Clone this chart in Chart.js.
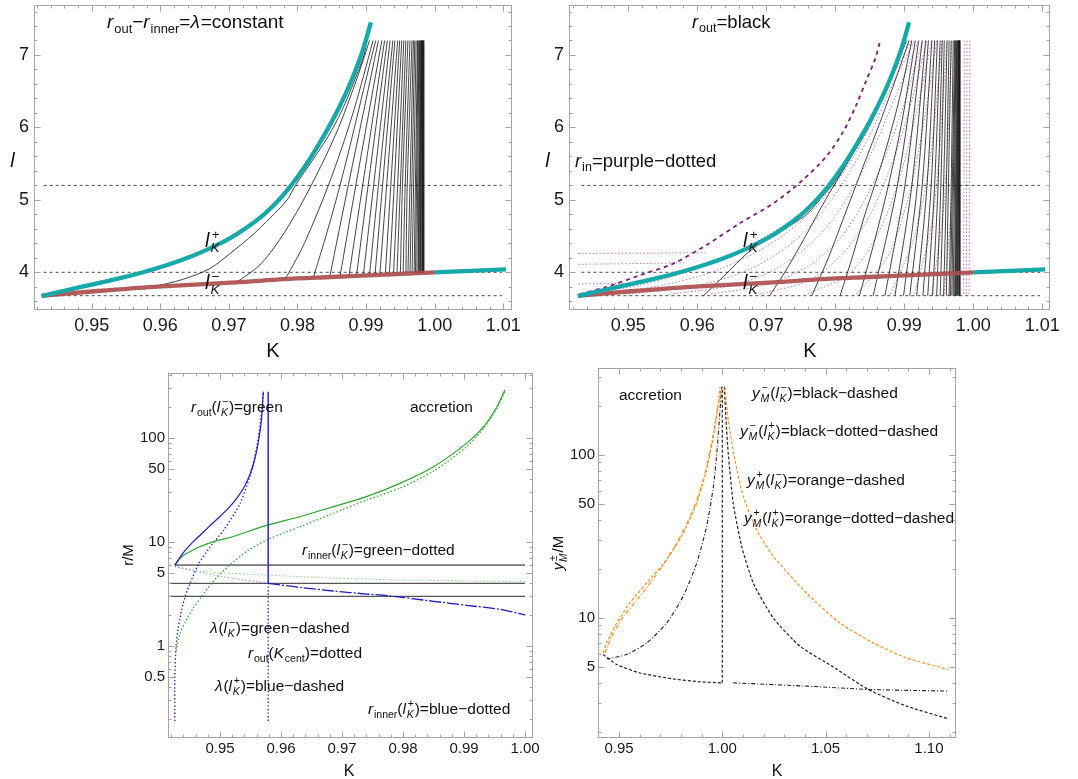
<!DOCTYPE html>
<html>
<head>
<meta charset="utf-8">
<script src="https://cdn.jsdelivr.net/npm/chart.js@4.4.1/dist/chart.umd.min.js"></script>
<style>
  body { margin: 0; background: #fff; width: 1078px; height: 779px; position: relative; overflow: hidden; }
  canvas { position: absolute; }
</style>
</head>
<body>
<canvas id="tl"></canvas>
<canvas id="tr"></canvas>
<canvas id="bl"></canvas>
<canvas id="br"></canvas>
<script>
'use strict';

// ---- top panels: l against K ----
const lKplus = [[0.9427, 3.67], [0.946, 3.745], [0.950, 3.83], [0.954, 3.915], [0.9575, 4.0], [0.961, 4.10],
  [0.964, 4.20], [0.967, 4.32], [0.970, 4.46], [0.9725, 4.61], [0.975, 4.79], [0.977, 4.97], [0.979, 5.19],
  [0.981, 5.45], [0.983, 5.75], [0.985, 6.08], [0.987, 6.46], [0.9885, 6.80], [0.9897, 7.12], [0.9907, 7.45]];
const lKplusTail = [[1.0, 4.0], [1.0104, 4.04]];
const lKminus = [[0.9427, 3.675], [0.950, 3.735], [0.959, 3.80], [0.971, 3.86], [0.978, 3.905], [0.985, 3.935],
  [0.992, 3.965], [1.0, 4.0]];
const dashLevels = [5.2, 4.0, 3.677];
const topLevel = 7.2;

// r_out contours, left panel (start on l_K^-)
const tlRout = [
  [[0.9590, 3.80], [0.9632, 3.90], [0.9672, 4.05], [0.9707, 4.30], [0.9735, 4.52], [0.9759, 4.74], [0.9785, 5.00],
    [0.9797, 5.20], [0.9822, 5.55], [0.9845, 5.88], [0.9864, 6.22], [0.9879, 6.55], [0.9897, 7.00], [0.9901, 7.20]],
  [[0.9711, 3.86], [0.9745, 4.10], [0.9774, 4.45], [0.9800, 4.85], [0.9820, 5.20], [0.9841, 5.60], [0.9860, 6.00],
    [0.9877, 6.42], [0.9893, 6.85], [0.9905, 7.20]],
  [[0.9782, 3.905], [0.9805, 4.30], [0.9826, 4.75], [0.9845, 5.20], [0.9864, 5.70], [0.9881, 6.20], [0.9896, 6.70], [0.9910, 7.20]],
  [[0.9823, 3.925], [0.9843, 4.55], [0.9862, 5.20], [0.9880, 5.88], [0.9897, 6.55], [0.9914, 7.20]],
  [[0.9847, 3.937], [0.9874, 5.20], [0.9918, 7.20]],
  [[0.9862, 3.944], [0.9885, 5.20], [0.9923, 7.20]],
  [[0.9875, 3.95], [0.9895, 5.20], [0.9927, 7.20]],
  [[0.9886, 3.953], [0.9903, 5.20], [0.9931, 7.20]],
  [[0.9896, 3.957], [0.9911, 5.20], [0.9935, 7.20]],
  [[0.9905, 3.96], [0.9918, 5.20], [0.9939, 7.20]],
  [[0.9913, 3.963], [0.9924, 5.20], [0.9942, 7.20]],
  [[0.9920, 3.966], [0.9930, 5.20], [0.9946, 7.20]],
  [[0.9928, 3.969], [0.9936, 5.20], [0.9949, 7.20]],
  [[0.9934, 3.972], [0.9941, 5.20], [0.9952, 7.20]],
  [[0.9940, 3.974], [0.9946, 5.20], [0.9955, 7.20]],
  [[0.9945, 3.976], [0.9950, 5.20], [0.9958, 7.20]],
  [[0.9950, 3.978], [0.9953, 5.20], [0.9961, 7.20]],
  [[0.9954, 3.98], [0.9957, 5.20], [0.9964, 7.20]],
  [[0.9958, 3.982], [0.9960, 5.20], [0.9967, 7.20]],
];
const tlDenseLow = 3.985;
const tlDenseBottomK = [0.9961, 0.9964, 0.9967, 0.9970, 0.9972, 0.9974, 0.9976, 0.9977, 0.9978, 0.9979, 0.9980,
  0.9981, 0.9982, 0.99825, 0.9983, 0.99835, 0.9984];
const tlDenseTopK = [0.9969, 0.9971, 0.9973, 0.9975, 0.9976, 0.9977, 0.9978, 0.9979, 0.9980, 0.99805, 0.9981,
  0.99815, 0.9982, 0.99825, 0.9983, 0.99838, 0.99844];

// r_out contours, right panel (start on the lowest dashed level)
const trRout = [
  [[0.9609, 3.677], [0.9642, 3.98], [0.9672, 4.26], [0.9700, 4.45], [0.9756, 4.78], [0.9780, 5.03], [0.9797, 5.22],
    [0.9820, 5.55], [0.9845, 5.95], [0.9868, 6.40], [0.9887, 6.80], [0.9901, 7.2]],
  [[0.9705, 3.677], [0.9730, 4.05], [0.9754, 4.45], [0.9777, 4.85], [0.9795, 5.15], [0.9822, 5.58], [0.9848, 6.03],
    [0.9872, 6.50], [0.9890, 6.88], [0.9903, 7.2]],
  [[0.9766, 3.677], [0.9790, 4.20], [0.9812, 4.75], [0.9830, 5.20], [0.9850, 5.70], [0.9868, 6.15], [0.9888, 6.68], [0.9907, 7.2]],
  [[0.9807, 3.677], [0.9826, 4.25], [0.9843, 4.80], [0.9857, 5.20], [0.9875, 5.75], [0.9893, 6.40], [0.9911, 7.2]],
  [[0.9835, 3.677], [0.9856, 4.40], [0.9877, 5.20], [0.9897, 6.10], [0.9916, 7.2]],
  [[0.9855, 3.677], [0.9890, 5.20], [0.9921, 7.2]],
  [[0.9872, 3.677], [0.9901, 5.20], [0.9926, 7.2]],
  [[0.98865, 3.677], [0.9911, 5.20], [0.9931, 7.2]],
  [[0.9899, 3.677], [0.9919, 5.20], [0.9935, 7.2]],
  [[0.9908, 3.677], [0.9926, 5.20], [0.9940, 7.2]],
  [[0.9918, 3.677], [0.9933, 5.20], [0.9944, 7.2]],
  [[0.9927, 3.677], [0.9939, 5.20], [0.9948, 7.2]],
  [[0.9934, 3.677], [0.9944, 5.20], [0.9952, 7.2]],
  [[0.9941, 3.677], [0.9949, 5.20], [0.9955, 7.2]],
  [[0.9947, 3.677], [0.9953, 5.20], [0.9958, 7.2]],
  [[0.9952, 3.677], [0.9957, 5.20], [0.9962, 7.2]],
  [[0.9957, 3.677], [0.9961, 5.20], [0.9965, 7.2]],
  [[0.9961, 3.677], [0.9964, 5.20], [0.9968, 7.2]],
  [[0.9965, 3.677], [0.9968, 5.20], [0.9971, 7.2]],
];
const trDenseLow = 3.677;
const trDenseBottomK = [0.9967, 0.9969, 0.9971, 0.9973, 0.9974, 0.9975, 0.9976, 0.9977, 0.9978, 0.9979, 0.99795, 0.9980, 0.99805];
const trDenseTopK = [0.9973, 0.9974, 0.9975, 0.9976, 0.9977, 0.9978, 0.99785, 0.9979, 0.99795, 0.9980, 0.99803, 0.99805, 0.99807];

// r_in contours (purple dotted) and the purple dashed curve
const trRin = [
  [[0.9428, 4.26], [0.9612, 4.27]],
  [[0.9428, 4.11], [0.9585, 4.13]],
  [[0.9428, 3.84], [0.9520, 3.85]],
  [[0.9440, 3.70], [0.9520, 3.83], [0.9590, 4.02], [0.9650, 4.25], [0.9700, 4.50], [0.9750, 4.82], [0.9790, 5.20],
    [0.9820, 5.60], [0.9845, 6.00], [0.9870, 6.50], [0.9893, 7.0], [0.9905, 7.2]],
  [[0.9460, 3.70], [0.9550, 3.82], [0.9620, 4.00], [0.9680, 4.25], [0.9730, 4.55], [0.9772, 4.90], [0.9806, 5.30],
    [0.9833, 5.70], [0.9857, 6.15], [0.9880, 6.65], [0.9910, 7.2]],
  [[0.9500, 3.70], [0.9590, 3.80], [0.9660, 3.98], [0.9715, 4.25], [0.9760, 4.60], [0.9798, 5.05], [0.9828, 5.50],
    [0.9853, 5.95], [0.9876, 6.45], [0.9915, 7.2]],
  [[0.9560, 3.70], [0.9640, 3.80], [0.9700, 3.98], [0.9750, 4.28], [0.9790, 4.65], [0.9822, 5.10], [0.9850, 5.60],
    [0.9873, 6.10], [0.9921, 7.2]],
  [[0.9620, 3.70], [0.9700, 3.83], [0.9760, 4.08], [0.9805, 4.45], [0.9840, 4.95], [0.9868, 5.50], [0.9892, 6.10], [0.9927, 7.2]],
  [[0.9690, 3.70], [0.9760, 3.88], [0.9810, 4.25], [0.9848, 4.75], [0.9878, 5.40], [0.9903, 6.10], [0.9933, 7.2]],
  [[0.9760, 3.70], [0.9820, 3.98], [0.9860, 4.50], [0.9890, 5.20], [0.9915, 6.10], [0.9940, 7.2]],
  [[0.9830, 3.70], [0.9875, 4.20], [0.9905, 5.00], [0.9927, 6.00], [0.9947, 7.2]],
  [[0.9880, 3.70], [0.9915, 4.50], [0.9938, 5.60], [0.9955, 7.2]],
  [[0.9915, 3.70], [0.9942, 4.80], [0.9962, 7.2]],
  [[0.9940, 3.70], [0.9958, 5.00], [0.9969, 7.2]],
  [[0.9958, 3.70], [0.9970, 5.20], [0.9976, 7.2]],
  [[0.9986, 3.70], [0.9987, 7.2]],
  [[0.9990, 3.70], [0.9991, 7.2]],
  [[0.9994, 3.70], [0.9995, 7.2]],
];
const trRinOuter = [[0.9430, 3.70], [0.9469, 3.80], [0.9517, 3.96], [0.9565, 4.12], [0.9614, 4.38], [0.9662, 4.68],
  [0.9710, 4.95], [0.9750, 5.25], [0.9787, 5.60], [0.9812, 5.95], [0.9830, 6.30], [0.9845, 6.65], [0.9858, 6.95], [0.9865, 7.19]];

// ---- bottom left: r/M against K ----
const blBlueSolid = [[0.9426, 6.0], [0.9440, 7.9], [0.9455, 9.9], [0.9470, 12.0], [0.9485, 14.6], [0.9500, 17.6],
  [0.9515, 21.5], [0.9528, 26.5], [0.9540, 34], [0.9550, 46], [0.9558, 66], [0.9564, 100], [0.9568, 150], [0.9571, 279]];
const blBlueVert = [[0.9579, 4.0], [0.9579, 279]];
const blBlueVertDot = [[0.9579, 0.19], [0.9579, 4.0]];
const blBlueDotted = [[0.9426, 0.19], [0.9426, 0.5], [0.9428, 1.0], [0.9431, 1.43], [0.9437, 2.2], [0.9443, 3.0],
  [0.9451, 4.0], [0.9464, 6.0], [0.9484, 9.0], [0.9506, 13.0], [0.9533, 23.5], [0.9552, 49], [0.9563, 103],
  [0.9569, 200], [0.9571, 279]];
const blBlueFaint = [[0.9426, 5.8], [0.9473, 5.0], [0.9525, 4.45], [0.9579, 4.0]];
const blBlueDash = [[0.9579, 4.0], [0.9631, 3.66], [0.9686, 3.38], [0.9740, 3.16], [0.9779, 3.03], [0.9850, 2.69],
  [0.9904, 2.46], [0.9959, 2.25], [1.0, 1.99]];
const blGreenSolid = [[0.9426, 6.01], [0.9435, 7.0], [0.9445, 7.75], [0.9467, 9.0], [0.9495, 10.3], [0.9522, 11.3],
  [0.9579, 14.6], [0.9631, 17.5], [0.9686, 21.9], [0.9740, 27.3], [0.9795, 36.6], [0.9850, 52.9], [0.9904, 88.8],
  [0.9932, 128], [0.9954, 200], [0.9967, 289]];
const blGreenDotted = [[0.9428, 0.9], [0.9434, 1.3], [0.9443, 1.7], [0.9456, 2.3], [0.9470, 3.0], [0.9486, 4.0],
  [0.9516, 6.0], [0.9545, 8.2], [0.9579, 10.6], [0.9631, 14.0], [0.9686, 18.9], [0.9740, 25.3], [0.9795, 33],
  [0.9850, 48], [0.9904, 82], [0.9932, 124], [0.9954, 193], [0.9967, 279]];
const blGreenFaint = [[0.9426, 5.8], [0.9480, 5.15], [0.9579, 4.8], [0.9686, 4.5], [0.9795, 4.33], [0.9904, 4.22], [1.0, 4.15]];
const blLevels = [[0.9426, 6.0], [0.9415, 4.0], [0.9415, 3.0]];
const blLevelEnd = 1.0;

// ---- bottom right: y_M/M against K ----
const brOrangeDash = [[0.9424, 6.11], [0.9440, 7.03], [0.9489, 9.32], [0.9553, 12.4], [0.9634, 16.4], [0.9731, 22.8],
  [0.9811, 33.1], [0.9876, 50.6], [0.9924, 80.9], [0.9957, 130], [0.9981, 207], [0.9989, 262]];
const brOrangeDotDash = [[0.9432, 6.11], [0.9465, 7.73], [0.9521, 10.2], [0.9602, 13.6], [0.9698, 19.8], [0.9779, 28.8],
  [0.9852, 44.0], [0.9908, 70.3], [0.9948, 118], [0.9976, 189], [0.9997, 262]];
const brOrangeRight = [[1.0013, 262], [1.0029, 164], [1.0061, 93], [1.0102, 55.6], [1.0166, 34.8], [1.0247, 23.9],
  [1.0408, 14.2], [1.0569, 9.32], [1.0731, 7.03], [1.0892, 5.69], [1.1094, 4.83]];
const brBlackDashRight = [[1.0010, 262], [1.0018, 164], [1.0029, 102], [1.0053, 50.6], [1.0094, 27.5], [1.0150, 16.4],
  [1.0247, 10], [1.0376, 6.71], [1.0537, 5.01], [1.0707, 3.64], [1.0892, 2.88], [1.1094, 2.41]];
const brBlackDashLow = [[0.9424, 5.97], [0.9489, 5.18], [0.9602, 4.60], [0.9763, 4.23], [0.9892, 4.06], [1.0, 4.0]];
const brBlackVert = [[1.0, 4.0], [1.0, 262]];
const brBlackDotDashLeft = [[0.9440, 5.6], [0.9537, 5.97], [0.9634, 7.03], [0.9731, 9.32], [0.9811, 13.6], [0.9876, 21.7],
  [0.9924, 36.4], [0.9957, 64], [0.9976, 112], [0.9989, 189], [0.9997, 262]];
const brBlackDotDashRight = [[1.0053, 4.0], [1.0408, 3.82], [1.0707, 3.64], [1.1094, 3.56]];

// tick labels
const topXTicks = [0.95, 0.96, 0.97, 0.98, 0.99, 1.00, 1.01];
const topYTicks = [4, 5, 6, 7];
const blXTicks = [0.95, 0.96, 0.97, 0.98, 0.99, 1.00];
const blYTicks = [0.5, 1, 5, 10, 50, 100];
const brXTicks = [0.95, 1.00, 1.05, 1.10];
const brYTicks = [5, 10, 50, 100];

const FONT = '"Liberation Sans", Arial, sans-serif';
Chart.defaults.font.family = FONT;
const CYAN = '#17a9a9';
const RED = 'rgba(172,78,78,0.92)';
const BLUE = '#1c1cc8';
const GREEN = '#2aa82a';
const ORANGE = '#ff8d1e';
const DOT = [1.4, 2.2];

function series(a, color, width, dash, order, tension) {
  return {
    data: a.map(p => ({ x: p[0], y: p[1] })),
    showLine: true, fill: false, borderColor: color, borderWidth: width, borderDash: dash || [],
    pointRadius: 0, pointHoverRadius: 0, tension: tension || 0, order: order || 0,
  };
}

function steps(a, b, d) {
  const out = [];
  for (let v = a; v <= b + d / 2; v += d) out.push(+v.toFixed(6));
  return out;
}
function logMinors(lo, hi) {
  const out = [];
  for (let e = lo; e <= hi; e++) for (let m = 1; m < 10; m++) out.push(+(m * Math.pow(10, e)).toPrecision(3));
  return out;
}

function fontOf(size, italic) {
  return (italic ? 'italic ' : '') + size + 'px ' + FONT;
}

// text with italics, subscripts and stacked sub/superscripts
function drawRich(ctx, parts, x, y, size, align) {
  const sm = size * 0.68;
  const segs = parts.map(p => {
    const [t, s, t2] = p;
    if (s === 'ss') {
      ctx.font = fontOf(sm, false);
      const w1 = ctx.measureText(t).width;
      ctx.font = fontOf(sm, true);
      const w2 = ctx.measureText(t2).width;
      return { p, w: Math.max(w1, w2) + size * 0.06 };
    }
    ctx.font = fontOf(s === 'sub' ? sm : size, s === 'i');
    return { p, w: ctx.measureText(t).width + (s === 'i' ? size * 0.05 : 0) };
  });
  const total = segs.reduce((acc, s) => acc + s.w, 0);
  let cx = align === 'center' ? x - total / 2 : x;
  ctx.fillStyle = '#111';
  ctx.textAlign = 'left';
  ctx.textBaseline = 'alphabetic';
  for (const sg of segs) {
    const [t, s, t2] = sg.p;
    if (s === 'ss') {
      ctx.font = fontOf(sm, false);
      ctx.fillText(t, cx + size * 0.06, y - size * 0.42);
      ctx.font = fontOf(sm, true);
      ctx.fillText(t2, cx, y + size * 0.26);
    } else if (s === 'sub') {
      ctx.font = fontOf(sm, false);
      ctx.fillText(t, cx, y + size * 0.24);
    } else {
      ctx.font = fontOf(size, s === 'i');
      ctx.fillText(t, cx, y);
    }
    cx += sg.w;
  }
}

function decoPlugin(p) {
  return {
    id: 'deco_' + p.id,
    afterDatasetsDraw(chart) {
      const { ctx, chartArea: a, scales: { x, y } } = chart;
      ctx.save();
      ctx.strokeStyle = '#a4a4a4';
      ctx.lineWidth = 1;
      ctx.strokeRect(a.left + 0.5, a.top + 0.5, a.right - a.left - 1, a.bottom - a.top - 1);
      const mark = (scale, vals, len, horiz) => {
        ctx.beginPath();
        for (const v of vals) {
          if (v < scale.min || v > scale.max) continue;
          const q = Math.round(scale.getPixelForValue(v)) + 0.5;
          if (horiz) {
            ctx.moveTo(q, a.bottom); ctx.lineTo(q, a.bottom - len);
            ctx.moveTo(q, a.top); ctx.lineTo(q, a.top + len);
          } else {
            ctx.moveTo(a.left, q); ctx.lineTo(a.left + len, q);
            ctx.moveTo(a.right, q); ctx.lineTo(a.right - len, q);
          }
        }
        ctx.stroke();
      };
      mark(x, p.xMinor, 3.5, true);
      mark(x, p.xTicks, 6.5, true);
      mark(y, p.yMinor, 3.5, false);
      mark(y, p.yTicks, 6.5, false);
      ctx.restore();
    },
    afterDraw(chart) {
      const ctx = chart.ctx;
      ctx.save();
      ctx.translate(-p.x, -p.y);
      for (const n of p.notes) {
        if (n.rot) {
          ctx.save();
          ctx.translate(n.x, n.y);
          ctx.rotate(-Math.PI / 2);
          drawRich(ctx, n.parts, 0, n.size * 0.36, n.size, 'center');
          ctx.restore();
        } else {
          drawRich(ctx, n.parts, n.x, n.y, n.size, n.align);
        }
      }
      ctx.restore();
    },
  };
}

function noPad(s) {
  s.paddingTop = 0; s.paddingBottom = 0; s.paddingLeft = 0; s.paddingRight = 0;
}

function makeChart(p) {
  const cv = document.getElementById(p.id);
  cv.width = p.w; cv.height = p.h;
  cv.style.left = p.x + 'px'; cv.style.top = p.y + 'px';
  cv.style.width = p.w + 'px'; cv.style.height = p.h + 'px';
  const tickFont = { size: p.tickSize, family: FONT };
  return new Chart(cv, {
    type: 'scatter',
    data: { datasets: p.datasets },
    options: {
      responsive: false, animation: false, devicePixelRatio: 1,
      layout: { padding: { left: 0, top: p.area.t - p.y, right: p.x + p.w - p.area.r, bottom: 0 } },
      plugins: { legend: { display: false }, tooltip: { enabled: false } },
      events: [],
      scales: {
        x: {
          type: 'linear', min: p.xMin, max: p.xMax,
          afterFit: s => { s.height = p.y + p.h - p.area.b; noPad(s); },
          afterBuildTicks: s => { s.ticks = p.xTicks.map(v => ({ value: v })); },
          ticks: { autoSkip: false, maxRotation: 0, padding: p.xPad, color: '#1a1a1a', font: tickFont,
            callback: v => v.toFixed(2) },
          grid: { display: false, drawTicks: false }, border: { display: false },
        },
        y: {
          type: p.logY ? 'logarithmic' : 'linear', min: p.yMin, max: p.yMax,
          afterFit: s => { s.width = p.area.l - p.x; noPad(s); },
          afterBuildTicks: s => { s.ticks = p.yTicks.map(v => ({ value: v })); },
          ticks: { autoSkip: false, padding: p.yPad, color: '#1a1a1a', font: tickFont, callback: v => String(v) },
          grid: { display: false, drawTicks: false }, border: { display: false },
        },
      },
    },
    plugins: [decoPlugin(p)],
  });
}

function topCommon(rout, denseLow, denseBottom, denseTop, dashFrom, dashTo) {
  return [
    series(lKplus, CYAN, 4.3, [], 0, 0.3),
    series(lKplusTail, CYAN, 4.3, [], 0),
    series(lKminus, RED, 4.3, [], 1, 0.3),
    ...dashLevels.map(l => series([[dashFrom, l], [dashTo, l]], '#4a4a4a', 1, [3, 3], 3)),
    ...rout.map(c => series(c, '#151515', 0.8, [], 2, 0.3)),
    ...denseBottom.map((k, i) => series([[k, denseLow], [denseTop[i], topLevel]], '#151515', 0.8, [], 2)),
  ];
}

const lPlus = [['l', 'i'], ['+', 'ss', 'K']];
const lMinus = [['l', 'i'], ['−', 'ss', 'K']];

makeChart({
  id: 'tl', x: 0, y: 0, w: 540, h: 360, area: { l: 34, t: 5, r: 512, b: 310 },
  xMin: 0.94159, xMax: 1.01127, yMin: 3.4795, yMax: 7.69,
  xTicks: topXTicks, yTicks: topYTicks, xMinor: steps(0.942, 1.012, 0.002), yMinor: steps(3.6, 7.6, 0.2),
  tickSize: 18, xPad: 5, yPad: 5,
  datasets: topCommon(tlRout, tlDenseLow, tlDenseBottomK, tlDenseTopK, 0.9430, 1.0098),
  notes: [
    { x: 107, y: 28, size: 19, parts: [['r', 'i'], ['out', 'sub'], ['−'], ['r', 'i'], ['inner', 'sub'], ['='], ['λ', 'i'], ['=constant']] },
    { x: 205, y: 247, size: 20, parts: lPlus },
    { x: 205, y: 289, size: 20, parts: lMinus },
    { x: 273, y: 357, size: 20, parts: [['K']], align: 'center' },
    { x: 13, y: 167, size: 20, parts: [['l', 'i']], align: 'center' },
  ],
});

makeChart({
  id: 'tr', x: 540, y: 0, w: 538, h: 360, area: { l: 569, t: 5, r: 1050, b: 310 },
  xMin: 0.94141, xMax: 1.01112, yMin: 3.4795, yMax: 7.69,
  xTicks: topXTicks, yTicks: topYTicks, xMinor: steps(0.942, 1.012, 0.002), yMinor: steps(3.6, 7.6, 0.2),
  tickSize: 18, xPad: 5, yPad: 5,
  datasets: [
    ...topCommon(trRout, trDenseLow, trDenseBottomK, trDenseTopK, 0.9432, 1.0097),
    ...trRin.map(c => series(c, 'rgba(176,70,176,0.8)', 1, DOT, 4, 0.3)),
    series(trRinOuter, '#7d1c7d', 1.8, [4, 4], 4, 0.3),
  ],
  notes: [
    { x: 692, y: 28, size: 18.5, parts: [['r', 'i'], ['out', 'sub'], ['=black']] },
    { x: 575, y: 167, size: 18.5, parts: [['r', 'i'], ['in', 'sub'], ['=purple−dotted']] },
    { x: 743, y: 247, size: 20, parts: lPlus },
    { x: 743, y: 289, size: 20, parts: lMinus },
    { x: 810, y: 357, size: 20, parts: [['K']], align: 'center' },
    { x: 548, y: 167, size: 20, parts: [['l', 'i']], align: 'center' },
  ],
});

makeChart({
  id: 'bl', x: 100, y: 360, w: 440, h: 419, area: { l: 168, t: 373, r: 533, b: 738 },
  xMin: 0.94148, xMax: 1.00131, yMin: 0.1304, yMax: 421.7, logY: true,
  xTicks: blXTicks, yTicks: blYTicks, xMinor: steps(0.942, 1.0, 0.002), yMinor: logMinors(-1, 2),
  tickSize: 15, xPad: 2, yPad: 3,
  datasets: [
    series(blBlueSolid, BLUE, 1.2, [], 0, 0.3),
    series(blBlueVert, BLUE, 1.4, [], 0),
    series(blBlueVertDot, BLUE, 1.3, DOT, 1),
    series(blBlueDotted, BLUE, 1.3, DOT, 1, 0.25),
    series(blBlueFaint, 'rgba(60,60,220,0.6)', 1, DOT, 2, 0.25),
    series(blBlueDash, BLUE, 1.3, [12, 2, 2, 2], 1, 0.25),
    series(blGreenSolid, GREEN, 1.2, [], 0, 0.3),
    series(blGreenDotted, GREEN, 1.3, DOT, 1, 0.25),
    series(blGreenFaint, 'rgba(80,190,80,0.7)', 1, DOT, 2, 0.25),
    ...blLevels.map((s, i) => series([s, [blLevelEnd, s[1]]], i === 0 ? '#111' : '#555', i === 0 ? 1 : 1.4, [], 3)),
  ],
  notes: [
    { x: 191, y: 412, size: 15.5, parts: [['r', 'i'], ['out', 'sub'], ['('], ...lMinus, [')=green']] },
    { x: 410, y: 412, size: 15.5, parts: [['accretion']] },
    { x: 302, y: 555, size: 15.5, parts: [['r', 'i'], ['inner', 'sub'], ['('], ...lMinus, [')=green−dotted']] },
    { x: 210, y: 633, size: 15.5, parts: [['λ', 'i'], ['('], ...lMinus, [')=green−dashed']] },
    { x: 248, y: 658, size: 15.5, parts: [['r', 'i'], ['out', 'sub'], ['('], ['K', 'i'], ['cent', 'sub'], [')=dotted']] },
    { x: 215, y: 691, size: 15.5, parts: [['λ', 'i'], ['('], ...lPlus, [')=blue−dashed']] },
    { x: 368, y: 714, size: 15.5, parts: [['r', 'i'], ['inner', 'sub'], ['('], ...lPlus, [')=blue−dotted']] },
    { x: 349, y: 776, size: 16, parts: [['K']], align: 'center' },
    { x: 128, y: 555, size: 15, parts: [['r/M']], rot: true },
  ],
});

makeChart({
  id: 'br', x: 540, y: 360, w: 538, h: 419, area: { l: 598, t: 368, r: 956, b: 738 },
  xMin: 0.93984, xMax: 1.11312, yMin: 1.836, yMax: 341.8, logY: true,
  xTicks: brXTicks, yTicks: brYTicks, xMinor: steps(0.94, 1.11, 0.01), yMinor: logMinors(0, 2),
  tickSize: 15, xPad: 2, yPad: 3,
  datasets: [
    series(brOrangeDash, ORANGE, 1.2, [3, 2], 0, 0.2),
    series(brOrangeDotDash, ORANGE, 1.2, [4, 2, 1, 2], 0, 0.2),
    series(brOrangeRight, ORANGE, 1.2, [3, 2], 0, 0.2),
    series(brBlackDashRight, '#222', 1.2, [3, 2], 1, 0.2),
    series(brBlackDashLow, '#222', 1.2, [3, 2], 1, 0.2),
    series(brBlackVert, '#222', 1.2, [3, 2], 1),
    series(brBlackDotDashLeft, '#222', 1.1, [4, 2, 1, 2], 1, 0.2),
    series(brBlackDotDashRight, '#222', 1.1, [4, 2, 1, 2], 1),
  ],
  notes: [
    { x: 619, y: 400, size: 15.5, parts: [['accretion']] },
    { x: 752, y: 398, size: 15.5, parts: [['y', 'i'], ['−', 'ss', 'M'], ['('], ...lMinus, [')=black−dashed']] },
    { x: 740, y: 436, size: 15.5, parts: [['y', 'i'], ['−', 'ss', 'M'], ['('], ...lPlus, [')=black−dotted−dashed']] },
    { x: 747, y: 485, size: 15.5, parts: [['y', 'i'], ['+', 'ss', 'M'], ['('], ...lMinus, [')=orange−dashed']] },
    { x: 744, y: 523, size: 15.5, parts: [['y', 'i'], ['+', 'ss', 'M'], ['('], ...lPlus, [')=orange−dotted−dashed']] },
    { x: 777, y: 776, size: 16, parts: [['K']], align: 'center' },
    { x: 558, y: 553, size: 15, parts: [['y', 'i'], ['±', 'ss', 'M'], ['/M']], rot: true },
  ],
});
</script>
</body>
</html>
